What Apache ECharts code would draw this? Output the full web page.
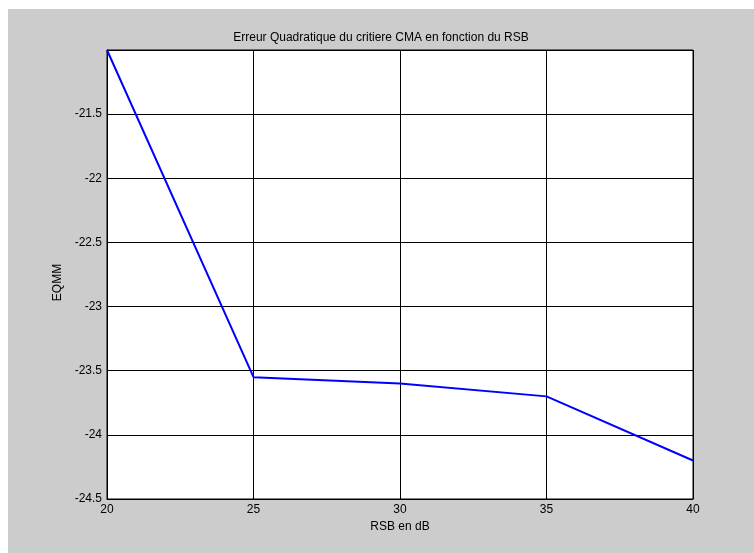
<!DOCTYPE html>
<html>
<head>
<meta charset="utf-8">
<script src="https://cdn.jsdelivr.net/npm/echarts@6/dist/echarts.min.js"></script>
<style>
html,body{margin:0;padding:0;background:#fff;width:754px;height:553px;overflow:hidden;}
#c{position:absolute;left:8px;top:9px;width:746px;height:544px;}
</style>
</head>
<body>
<div id="c"></div>
<script>
const rsb = [20, 25, 30, 35, 40];
const eqmm = [-21.0, -23.55, -23.6, -23.7, -24.2];
const xTicks = [20, 25, 30, 35, 40];
const yTicks = [-24.5, -24, -23.5, -23, -22.5, -22, -21.5];

const font = "'Liberation Sans', Arial, Helvetica, sans-serif";
const chart = echarts.init(document.getElementById('c'));
chart.setOption({
  backgroundColor: '#cccccc',
  animation: false,
  title: {
    text: 'Erreur Quadratique du critiere CMA en fonction du RSB',
    left: 'center',
    top: 18,
    textStyle: {fontFamily: font, fontSize: 12, fontWeight: 'normal', color: '#000'}
  },
  grid: {
    left: 99, right: 61, top: 41, bottom: 54,
    show: true, backgroundColor: '#ffffff', borderColor: '#000', borderWidth: 1
  },
  xAxis: {
    type: 'value', min: 20, max: 40, interval: 5,
    name: 'RSB en dB', nameLocation: 'middle', nameGap: 21,
    nameTextStyle: {fontFamily: font, fontSize: 12, color: '#000', verticalAlign: 'top'},
    axisLine: {show: true, lineStyle: {color: '#000', width: 1}},
    axisTick: {show: false},
    splitLine: {show: true, lineStyle: {color: '#000', width: 1}},
    axisLabel: {
      fontFamily: font, fontSize: 12, color: '#000', margin: 5,
      formatter: v => xTicks.includes(v) ? String(v) : ''
    }
  },
  yAxis: {
    type: 'value', min: -24.5, max: -21, interval: 0.5,
    name: 'EQMM', nameLocation: 'middle', nameGap: 42, nameRotate: 90,
    nameTextStyle: {fontFamily: font, fontSize: 12, color: '#000', padding: [0, 16, 0, 0]},
    axisLine: {show: true, lineStyle: {color: '#000', width: 1}},
    axisTick: {show: false},
    splitLine: {show: true, lineStyle: {color: '#000', width: 1}},
    axisLabel: {
      fontFamily: font, fontSize: 12, color: '#000', margin: 5,
      formatter: v => yTicks.some(t => Math.abs(t - v) < 1e-9) ? String(v) : ''
    }
  },
  series: [{
    type: 'line',
    data: rsb.map((x, i) => [x, eqmm[i]]),
    showSymbol: false,
    lineStyle: {color: '#0000ff', width: 2},
    itemStyle: {color: '#0000ff'}
  }]
});
</script>
</body>
</html>
